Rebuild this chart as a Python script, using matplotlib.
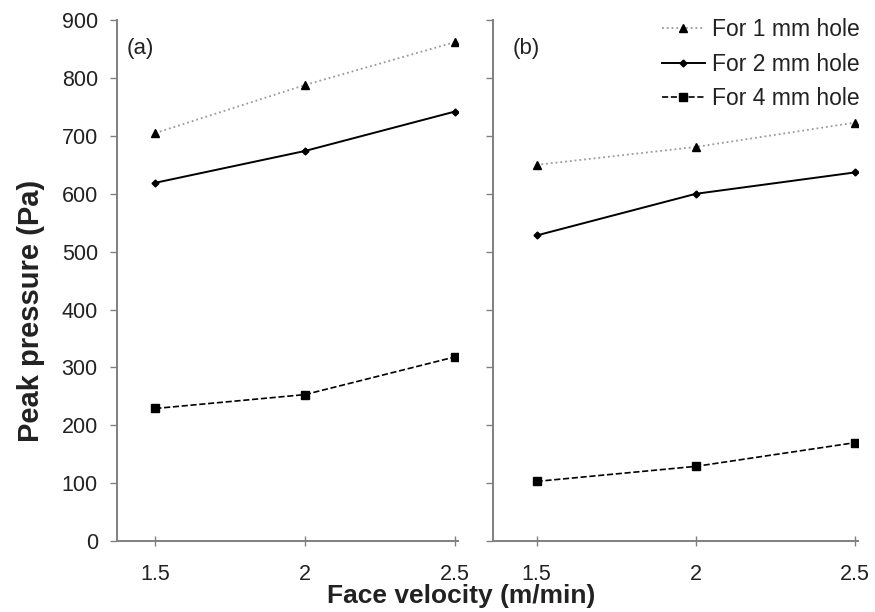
import numpy as np
import matplotlib.pyplot as plt

plt.rcParams['font.family'] = ['Liberation Sans', 'DejaVu Sans']

velocity = [1.5, 2, 2.5]
labels = ['For 1 mm hole', 'For 2 mm hole', 'For 4 mm hole']

# panel (a)
a_1mm = [705, 788, 862]
a_2mm = [619, 674, 742]
a_4mm = [229, 253, 318]

# panel (b)
b_1mm = [650, 681, 723]
b_2mm = [528, 600, 637]
b_4mm = [103, 129, 170]

fig = plt.figure(figsize=(8.75, 6.12), dpi=100)
ax1 = fig.add_axes([0.134, 0.116, 0.389, 0.851])
ax2 = fig.add_axes([0.563, 0.116, 0.418, 0.851])

styles = [
    dict(color='#9a9a9a', linestyle=':', linewidth=1.3, marker='^', markersize=5.5,
         markerfacecolor='k', markeredgecolor='k'),
    dict(color='k', linestyle='-', linewidth=1.4, marker='D', markersize=3.5,
         markerfacecolor='k', markeredgecolor='k'),
    dict(color='k', linestyle='--', linewidth=1.2, marker='s', markersize=5.5,
         markerfacecolor='k', markeredgecolor='k'),
]

for ax, series, xlim in [(ax1, [a_1mm, a_2mm, a_4mm], (1.373, 2.51)),
                         (ax2, [b_1mm, b_2mm, b_4mm], (1.362, 2.51))]:
    for vals, st, lab in zip(series, styles, labels):
        ax.plot(velocity, vals, label=lab, **st)
    ax.set_xlim(*xlim)
    ax.set_ylim(0, 900)
    ax.set_xticks(velocity)
    ax.set_xticklabels(['1.5', '2', '2.5'])
    ax.set_yticks(np.arange(0, 901, 100))
    for s in ['top', 'right']:
        ax.spines[s].set_visible(False)
    for s in ['left', 'bottom']:
        ax.spines[s].set_color('#808080')
        ax.spines[s].set_linewidth(1.4)
    ax.tick_params(axis='both', colors='#808080', labelcolor='#222222',
                   labelsize=15.5, length=5, width=1, pad=9)
    ax.tick_params(axis='x', direction='inout', length=7, pad=13)

ax2.set_yticklabels([])

ax1.text(0.028, 0.945, '(a)', transform=ax1.transAxes, fontsize=16, va='center',
         color='#222222')
ax2.text(0.055, 0.945, '(b)', transform=ax2.transAxes, fontsize=16, va='center',
         color='#222222')

ax2.legend(loc='upper right', frameon=False, fontsize=16.5, handlelength=1.9,
           handletextpad=0.3, labelspacing=0.5, borderaxespad=0.0,
           bbox_to_anchor=(0.993, 0.985), bbox_transform=fig.transFigure,
           labelcolor='#222222')

fig.text(0.035, 0.492, 'Peak pressure (Pa)', rotation=90, fontsize=21,
         fontweight='bold', ha='center', va='center', color='#222222')
fig.text(0.527, 0.026, 'Face velocity (m/min)', fontsize=19, fontweight='bold',
         ha='center', va='center', color='#222222')

fig.savefig('out.png', dpi=100)
